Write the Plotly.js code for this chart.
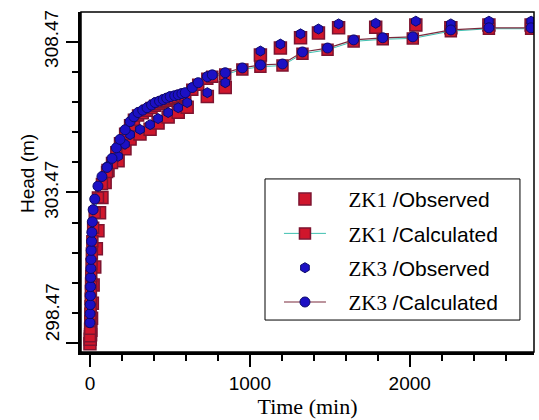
<!DOCTYPE html>
<html>
<head>
<meta charset="utf-8">
<script src="https://cdn.plot.ly/plotly-3.0.1.min.js"></script>
<style>html,body{margin:0;padding:0;background:#fff;}#chart{width:539px;height:420px;}</style>
</head>
<body>
<div id="chart"></div>
<script>
// ---- data ----
const seriesNames = ["ZK1 /Observed", "ZK1 /Calculated", "ZK3 /Observed", "ZK3 /Calculated"];

const zk1ObsTime = [0,2,4,6,10,15,20,30,40,50,60,75,95,113,176,219,251,313,376,426,489,552,608,734,846,1066,1191,1317,1429,1555,1787,2038,2257,2495,2759];
const zk1ObsHead = [298.45,298.6,298.75,298.9,299.3,299.8,300.4,301.0,301.6,302.2,302.8,303.3,303.8,304.2,304.52,304.92,305.24,305.41,305.57,305.77,305.97,306.13,306.30,306.65,306.95,308.03,308.26,308.6,308.76,308.93,308.95,309.02,308.93,309.02,309.02];

const calcTime = [0,1,2,3,4,5,6,7,8,10,12,15,20,30,50,75,107,138,165,188,220,251,275,301,330,357,385,408,435,458,480,502,530,552,575,596,640,677,734,765,846,953,1066,1204,1329,1486,1649,1831,2019,2257,2495,2759];
const zk1CalcHead = [298.7,298.95,299.2,299.45,299.7,299.95,300.2,300.45,300.7,301.1,301.45,301.85,302.3,302.8,303.3,303.75,304.15,304.45,304.8,305.1,305.42,305.7,305.88,306.02,306.1,306.18,306.27,306.35,306.41,306.46,306.51,306.56,306.6,306.63,306.67,306.7,306.88,307.04,307.24,307.31,307.38,307.55,307.64,307.68,308.07,308.2,308.48,308.55,308.58,308.82,308.9,308.9];
const zk3CalcHead = [299.15,299.45,299.75,300.05,300.35,300.65,300.95,301.25,301.55,301.85,302.15,302.5,302.9,303.25,303.68,304.0,304.3,304.6,304.95,305.23,305.55,305.82,305.98,306.12,306.2,306.28,306.37,306.45,306.5,306.55,306.6,306.65,306.68,306.71,306.75,306.78,306.95,307.11,307.31,307.37,307.44,307.6,307.70,307.73,308.13,308.26,308.53,308.60,308.63,308.86,308.93,308.93];

const zk3ObsTime = [113,176,219,251,313,376,426,489,552,608,734,846,1066,1191,1317,1429,1555,1787,2038,2257,2495,2759];
const zk3ObsHead = [304.35,304.67,305.07,305.39,305.56,305.72,305.92,306.12,306.28,306.45,306.78,307.11,308.16,308.39,308.73,308.89,309.06,309.08,309.15,309.06,309.15,309.15];

const xTickVals = [0, 1000, 2000];
const xTickText = ["0", "1000", "2000"];
const xMinorVals = [200,400,600,800,1200,1400,1600,1800,2200,2400,2600];
const yTickVals = [298.47, 303.47, 308.47];
const yTickText = ["", "303.47", "308.47"];
const yMinorVals = [299.47,300.47,301.47,302.47,304.47,305.47,306.47,307.47];
const bottomLabel = "298.47";
const xTitle = "Time (min)";
const yTitle = "Head (m)";

// ---- styling ----
const serif = "Liberation Serif, Times New Roman, serif";
const sans = "Liberation Sans, Arial, sans-serif";
function legendName(s){
  const parts = s.split(" ");
  return "&nbsp;&nbsp;&nbsp;<span style='font-family:" + serif + "'>" + parts[0] + "</span> " + parts[1];
}

const traces = [
  {x: zk1ObsTime, y: zk1ObsHead, type: "scatter", mode: "markers", name: legendName(seriesNames[0]), legendgroup: "a",
   marker: {symbol: "square", size: 12, color: "#d0162c", line: {color: "#7d1430", width: 1.5}}},
  {x: calcTime, y: zk1CalcHead, type: "scatter", mode: "lines+markers", name: legendName(seriesNames[1]), legendgroup: "b",
   line: {color: "#3fc0b0", width: 1},
   marker: {symbol: "square", size: 11, color: "#d0162c", line: {color: "#7d1430", width: 1.5}}},
  {x: zk3ObsTime, y: zk3ObsHead, type: "scatter", mode: "markers", name: legendName(seriesNames[2]), legendgroup: "c",
   marker: {symbol: "hexagon", size: 10, color: "#1c10c4", line: {color: "#0c0a6a", width: 1}}},
  {x: calcTime, y: zk3CalcHead, type: "scatter", mode: "lines+markers", name: legendName(seriesNames[3]), legendgroup: "d",
   line: {color: "#7a2a3c", width: 1.2},
   marker: {symbol: "circle", size: 10, color: "#1c10c4", line: {color: "#0c0a6a", width: 1}}}
];

const layout = {
  width: 539, height: 420,
  margin: {l: 81, r: 5, t: 12, b: 68, pad: 0},
  paper_bgcolor: "#ffffff", plot_bgcolor: "#ffffff",
  showlegend: true,
  legend: {
    x: 0.437, y: 0.509, xanchor: "left", yanchor: "top",
    bgcolor: "rgba(0,0,0,0)", borderwidth: 0,
    font: {family: sans, size: 21, color: "#000"},
    tracegroupgap: 4, traceorder: "grouped", itemwidth: 42
  },
  xaxis: {
    range: [-56, 2777], showgrid: false, zeroline: false,
    showline: true, linecolor: "#000", linewidth: 3,
    ticks: "outside", ticklen: 12, tickwidth: 2, tickcolor: "#000",
    tickmode: "array", tickvals: xTickVals, ticktext: xTickText,
    tickfont: {family: sans, size: 19, color: "#000"},
    minor: {tickmode: "array", tickvals: xMinorVals, ticks: "outside", ticklen: 6, tickwidth: 2, tickcolor: "#000", showgrid: false},
    title: {text: xTitle, font: {family: serif, size: 22, color: "#000"}, standoff: 2}
  },
  yaxis: {
    range: [298.18, 309.455], showgrid: false, zeroline: false,
    showline: true, linecolor: "#000", linewidth: 3,
    ticks: "outside", ticklen: 12, tickwidth: 2, tickcolor: "#000",
    tickmode: "array", tickvals: yTickVals, ticktext: yTickText, tickangle: -90,
    tickfont: {family: sans, size: 19, color: "#000"},
    minor: {tickmode: "array", tickvals: yMinorVals, ticks: "outside", ticklen: 6, tickwidth: 2, tickcolor: "#000", showgrid: false}
  },
  shapes: [
    {type: "rect", xref: "paper", yref: "paper", x0: 0, x1: 1, y0: 0, y1: 1, line: {color: "#000", width: 1.5}, fillcolor: "rgba(0,0,0,0)", layer: "above"},
    {type: "rect", xref: "paper", yref: "paper", x0: 0.4062, x1: 0.969, y0: 0.094, y1: 0.509, line: {color: "#000", width: 1}, fillcolor: "#ffffff", layer: "above"}
  ],
  annotations: [
    {text: bottomLabel, xref: "paper", x: 0, xanchor: "center", xshift: -29, yref: "y", y: yTickVals[0], yanchor: "middle", yshift: 31,
     textangle: -90, showarrow: false, font: {family: sans, size: 19, color: "#000"}},
    {text: yTitle, xref: "paper", x: 0, xanchor: "center", xshift: -54, yref: "paper", y: 0.5235, yanchor: "middle",
     textangle: -90, showarrow: false, font: {family: sans, size: 19, color: "#000"}}
  ]
};

Plotly.newPlot("chart", traces, layout, {displayModeBar: false, staticPlot: true});
</script>
</body>
</html>
